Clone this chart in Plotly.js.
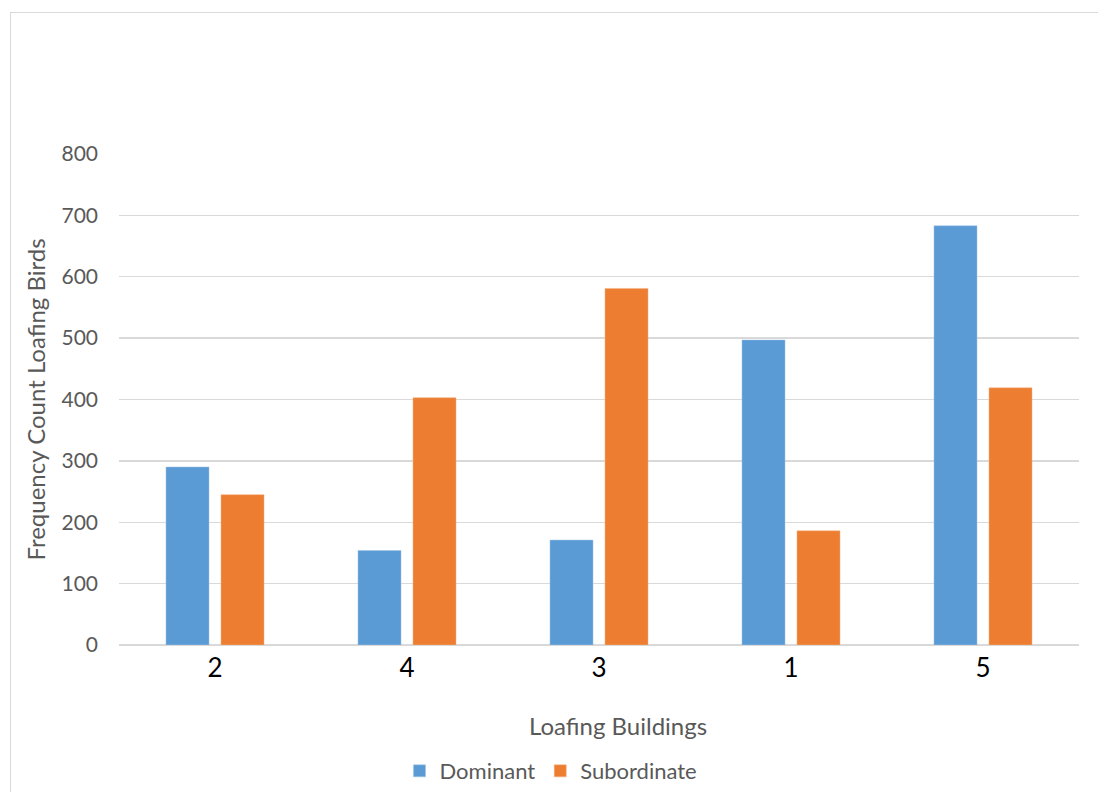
<!DOCTYPE html>
<html>
<head>
<meta charset="utf-8">
<script src="https://cdn.plot.ly/plotly-3.0.1.min.js"></script>
<style>
html,body{margin:0;padding:0;background:#fff;}
#wrap{position:relative;width:1098px;height:792px;overflow:hidden;}
#chart{position:absolute;left:0;top:0;width:1098px;height:792px;}
#frame{position:absolute;left:10px;top:12px;width:1100px;height:800px;border:1.5px solid #d9d9d9;pointer-events:none;box-sizing:border-box;}
</style>
</head>
<body>
<div id="wrap"><div id="chart"></div><div id="frame"></div></div>
<script>
var categories = ["2", "4", "3", "1", "5"];
var dominant = [290, 154, 171, 497, 683];
var subordinate = [245, 403, 581, 186, 419];
var yTicks = [0, 100, 200, 300, 400, 500, 600, 700, 800];
var xTitle = "Loafing Buildings";
var yTitle = "Frequency Count Loafing Birds";

var font = "Lato, 'Open Sans', sans-serif";
var traces = [
  {type: "bar", name: "Dominant", x: categories, y: dominant,
   marker: {color: "#5B9BD5", line: {color: "#9DC3E6", width: 0.5}}},
  {type: "bar", name: "Subordinate", x: categories, y: subordinate,
   marker: {color: "#ED7D31", line: {color: "#F4B183", width: 0.5}}}
];
var layout = {
  width: 1098, height: 792,
  paper_bgcolor: "#fff", plot_bgcolor: "#fff",
  margin: {l: 118.5, r: 19, t: 154, b: 147, autoexpand: false},
  barmode: "group", bargap: 0.427, bargroupgap: 0.218,
  font: {family: font, color: "#595959"},
  xaxis: {
    type: "category", showgrid: false, showline: false, ticks: "",
    tickfont: {size: 26, color: "#000"}, ticklabelstandoff: 5,
    automargin: false
  },
  yaxis: {
    range: [0, 800], tickvals: yTicks, ticktext: yTicks.map(String),
    showgrid: true, gridcolor: "#d9d9d9", gridwidth: 1.3,
    zeroline: true, zerolinecolor: "#d9d9d9", zerolinewidth: 2,
    showline: false, ticks: "", ticklabelstandoff: 20,
    tickfont: {size: 21, color: "#595959"},
    title: {text: yTitle, font: {size: 24, color: "#595959"}, standoff: 9},
    automargin: false
  },
  annotations: [{
    text: xTitle, xref: "paper", yref: "paper",
    x: (618 - 118.5) / 960.5, y: (645 - 725) / 491,
    xanchor: "center", yanchor: "middle", showarrow: false,
    font: {size: 24, color: "#595959"}
  }],
  showlegend: true,
  legend: {orientation: "h", x: 0.45, xanchor: "center", y: -0.214, yanchor: "top",
           font: {size: 22, color: "#595959"}, traceorder: "normal",
           itemwidth: 30}
};
Plotly.newPlot("chart", traces, layout, {displayModeBar: false, staticPlot: true});
</script>
</body>
</html>
